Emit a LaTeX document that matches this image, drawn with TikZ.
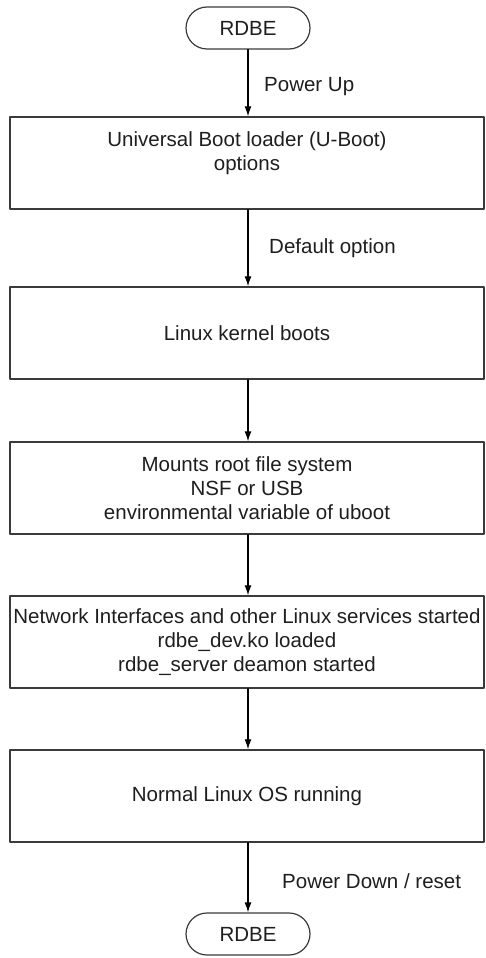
\documentclass[tikz,border=0pt]{standalone}
\usepackage{fontspec}
\setmainfont{Liberation Sans}
\usetikzlibrary{arrows.meta}
\definecolor{boxgray}{HTML}{3A3A3A}
\definecolor{textgray}{HTML}{1E1E1E}
\tikzset{
  stepbox/.style={draw=boxgray,line width=1.4pt,minimum width=474pt,minimum height=92pt,
    align=center,inner sep=0pt,text=textgray},
  endbox/.style={draw=boxgray,line width=1.2pt,rounded corners=21pt,minimum width=124pt,
    minimum height=42pt,inner sep=0pt,text=textgray},
  flow/.style={line width=1.2pt,draw=black,-{Latex[length=10pt,width=7pt]}},
  note/.style={anchor=west,inner sep=0pt,text=textgray}
}
\begin{document}
\begin{tikzpicture}[x=1pt,y=1pt,line cap=round,line join=round,
  font=\fontsize{20.5pt}{24pt}\selectfont]
\useasboundingbox (0,0) rectangle (485,-958);
% start and end
\node[endbox] (rdbetop) at (248,-28) {RDBE};
\node[endbox] (rdbebot) at (248,-934) {RDBE};
% boot steps
\node[stepbox] (uboot) at (247,-163) {Universal Boot loader (U-Boot)\\options\\\mbox{}};
\node[stepbox] (kernel) at (247,-333) {Linux kernel boots};
\node[stepbox] (rootfs) at (247,-488) {Mounts root file system\\NSF or USB\\environmental variable of uboot};
\node[stepbox] (services) at (247,-642) {Network Interfaces and other Linux services started\\rdbe\_dev.ko loaded\\rdbe\_server deamon started};
\node[stepbox] (running) at (247,-796) {Normal Linux OS running};
% arrows
\draw[flow] (rdbetop.south) -- (rdbetop.south |- uboot.north);
\draw[flow] (rdbetop.south |- uboot.south) -- (rdbetop.south |- kernel.north);
\draw[flow] (rdbetop.south |- kernel.south) -- (rdbetop.south |- rootfs.north);
\draw[flow] (rdbetop.south |- rootfs.south) -- (rdbetop.south |- services.north);
\draw[flow] (rdbetop.south |- services.south) -- (rdbetop.south |- running.north);
\draw[flow] (rdbetop.south |- running.south) -- (rdbebot.north);
% labels
\node[note] (powerup) at (264,-87) {Power Up};
\node[note] (default) at (269,-248) {Default option};
\node[note] (powerdown) at (282,-881) {Power Down / reset};
\end{tikzpicture}
\end{document}
